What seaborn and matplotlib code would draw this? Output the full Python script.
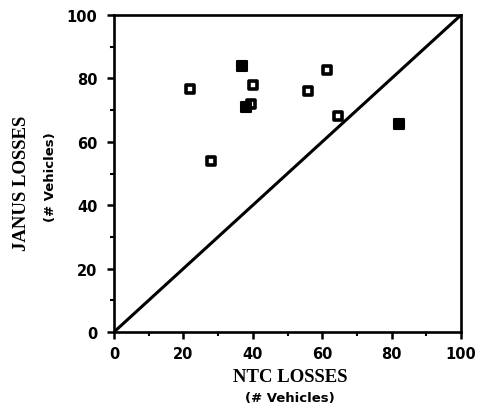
import matplotlib
matplotlib.use("Agg")
import matplotlib.pyplot as plt
import seaborn as sns
import pandas as pd
from matplotlib.ticker import MultipleLocator

sns.set_theme(style="white")

ntc_losses = [22, 37, 40, 39.5, 38, 56, 61.5, 64.5, 82, 28]
janus_losses = [76.5, 84, 78, 72, 71, 76, 82.7, 68, 65.5, 54]
filled = [False, True, False, False, True, False, False, False, True, False]
diag_x = [0, 100]
diag_y = [0, 100]
ticks = [0, 20, 40, 60, 80, 100]

df = pd.DataFrame({"ntc": ntc_losses, "janus": janus_losses, "filled": filled})

fig = plt.figure(figsize=(4.86, 4.10), dpi=100)
L, R, T, B = 114, 461, 16, 333
ax = fig.add_axes([L/486, 1-B/410, (R-L)/486, (B-T)/410])

sns.lineplot(x=diag_x, y=diag_y, ax=ax, color="black", linewidth=2.2)
hollow = df[~df["filled"]]
solid = df[df["filled"]]
sns.scatterplot(data=hollow, x="ntc", y="janus", ax=ax, marker="s", s=34,
                facecolor="white", edgecolor="black", linewidth=2.6, zorder=3)
sns.scatterplot(data=solid, x="ntc", y="janus", ax=ax, marker="s", s=50,
                facecolor="black", edgecolor="black", linewidth=1.5, zorder=3)

ax.set_xlim(0, 100)
ax.set_ylim(0, 100)
ax.set_xticks(ticks)
ax.set_yticks(ticks)
ax.xaxis.set_minor_locator(MultipleLocator(10))
ax.yaxis.set_minor_locator(MultipleLocator(10))
ax.tick_params(which="major", direction="out", length=5, width=1.8, color="black",
               bottom=True, left=True)
ax.tick_params(axis="x", which="major", pad=5)
ax.tick_params(axis="y", which="major", pad=7)
ax.tick_params(which="minor", direction="out", length=3, width=1.5, color="black",
               bottom=True, left=True)
for lab in ax.get_xticklabels() + ax.get_yticklabels():
    lab.set_fontfamily("DejaVu Sans")
    lab.set_fontweight("bold")
    lab.set_fontsize(10.5)
    lab.set_color("black")
for sp in ax.spines.values():
    sp.set_visible(True)
    sp.set_color("black")
    sp.set_linewidth(1.9)

ax.set_xlabel("")
ax.set_ylabel("")
fig.text(290/486, 1-378/410, "NTC LOSSES", ha="center", va="center", color="black",
         family="Liberation Serif", fontweight="bold", fontsize=13.5)
fig.text(290/486, 1-399/410, "(# Vehicles)", ha="center", va="center", color="black",
         family="DejaVu Sans", fontweight="bold", fontsize=9.5)
fig.text(22/486, 1-183/410, "JANUS LOSSES", ha="center", va="center", rotation=90,
         color="black", family="Liberation Serif", fontweight="bold", fontsize=13.5)
fig.text(50/486, 1-177/410, "(# Vehicles)", ha="center", va="center", rotation=90,
         color="black", family="DejaVu Sans", fontweight="bold", fontsize=9.5)

fig.savefig("out.png", dpi=100, facecolor="white")
